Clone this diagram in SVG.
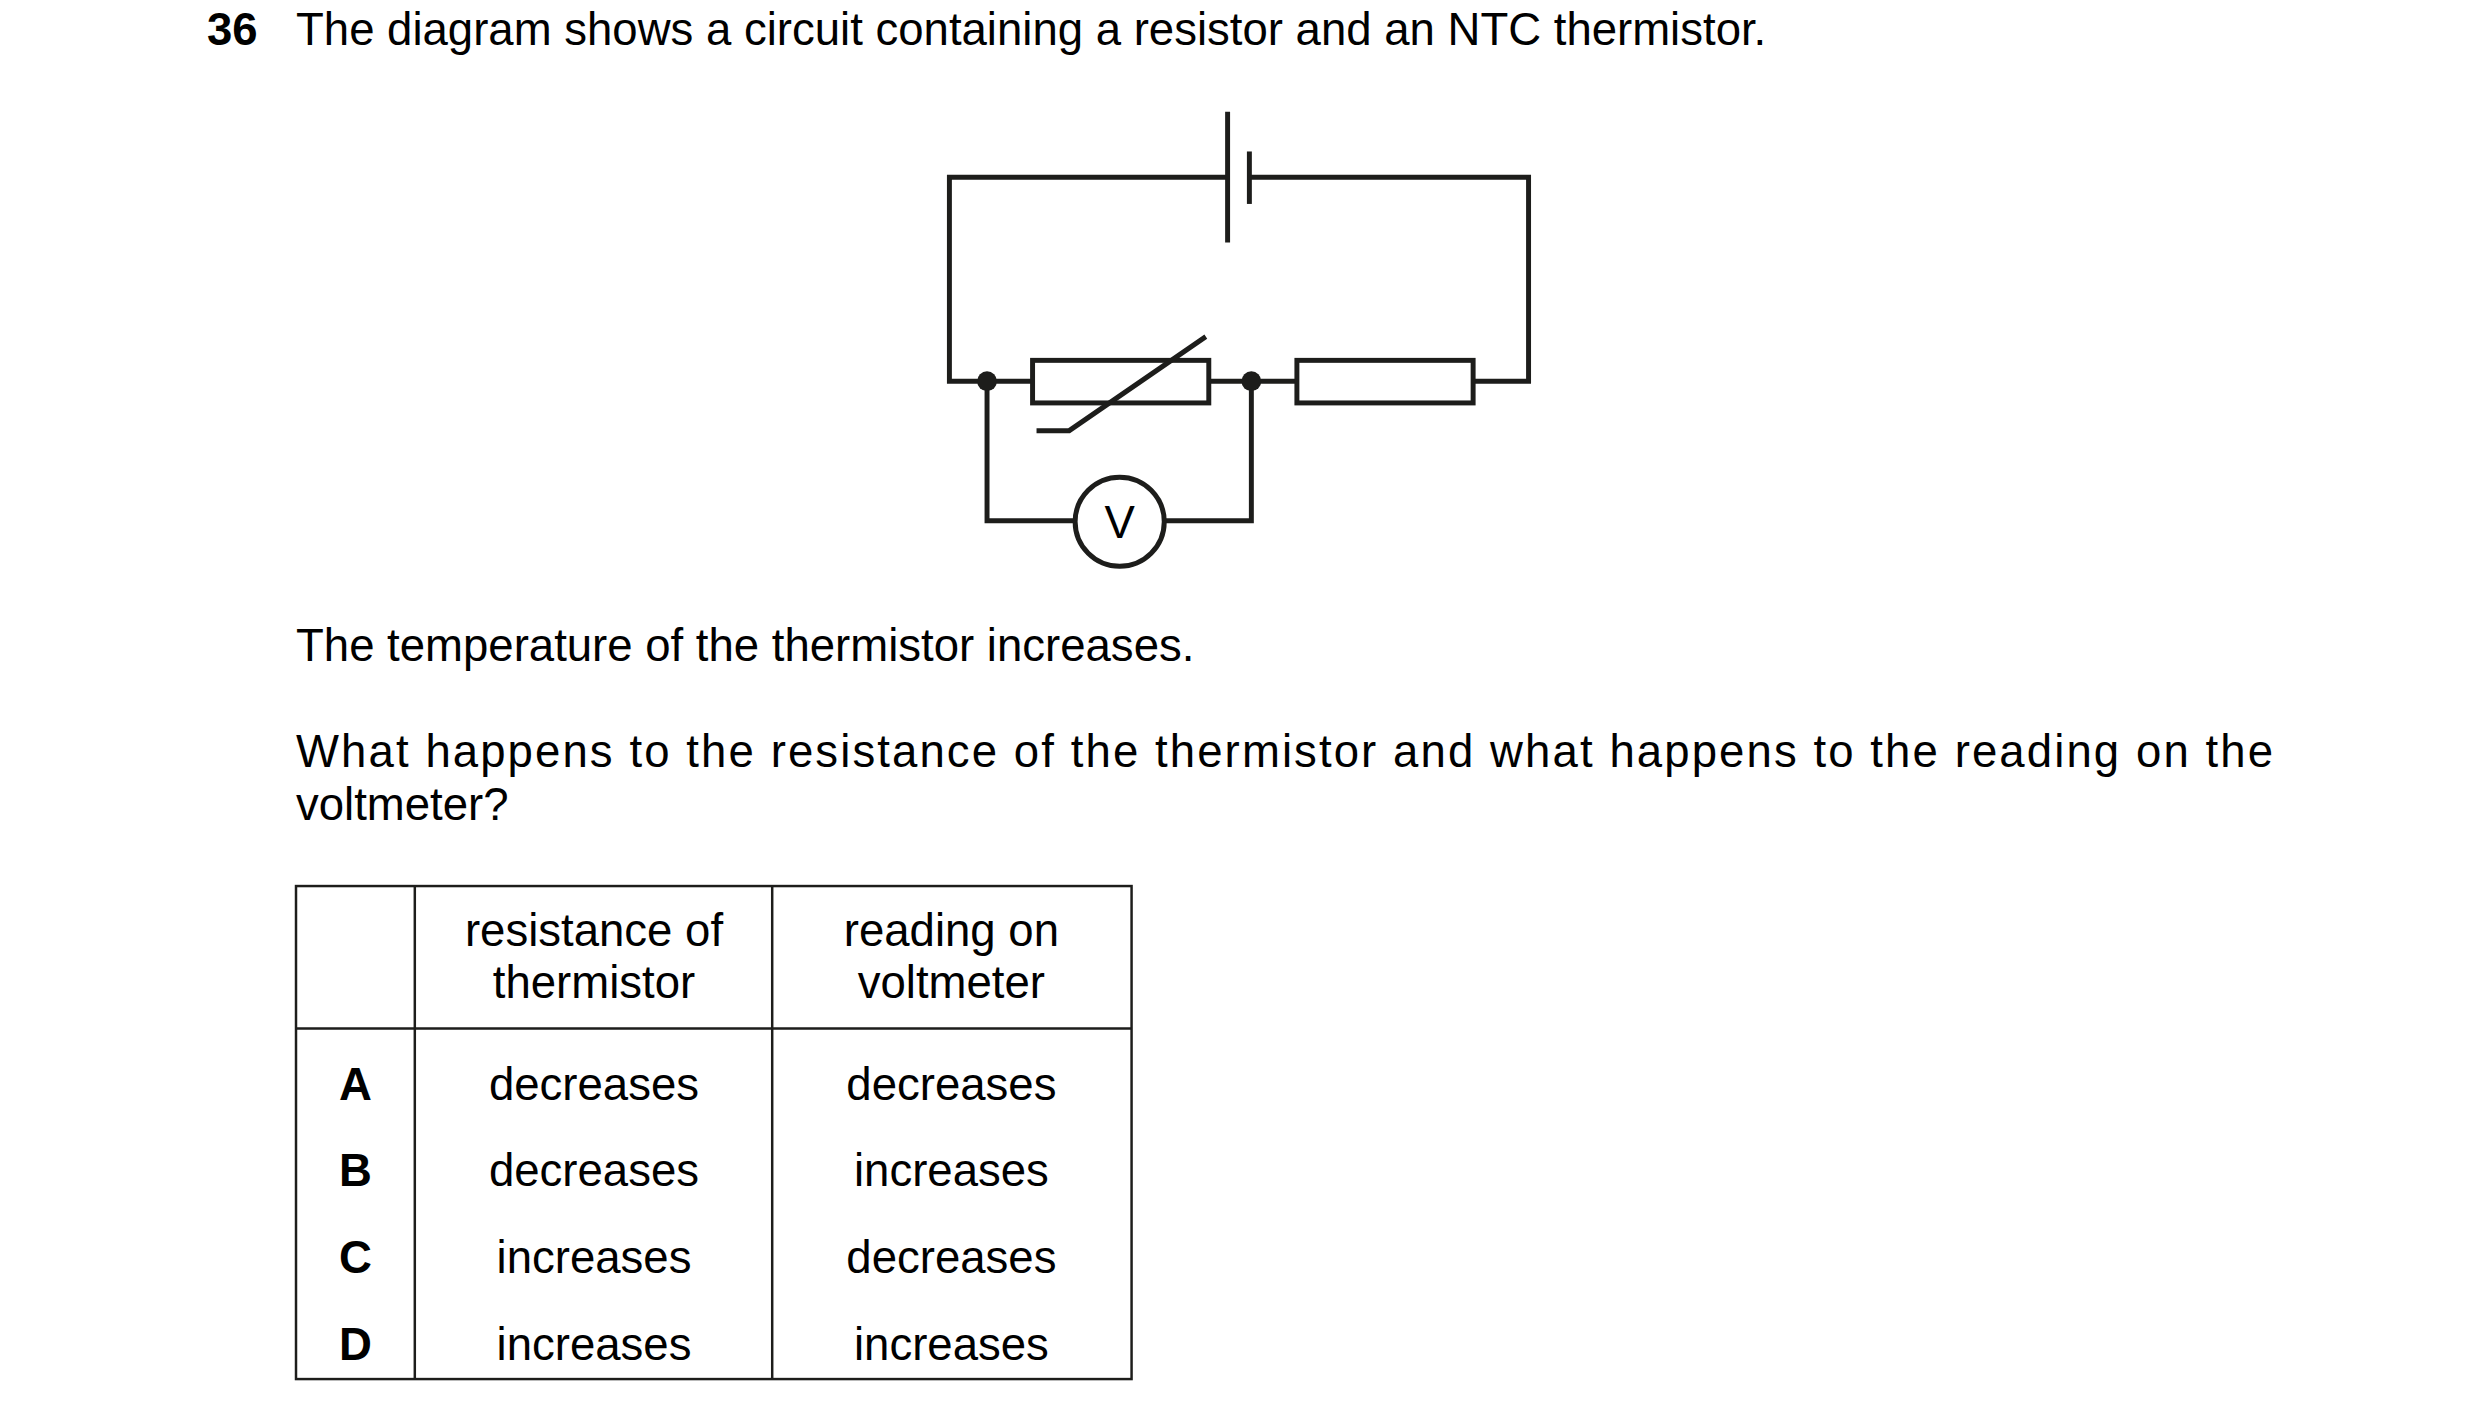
<svg xmlns="http://www.w3.org/2000/svg" width="2480" height="1421" viewBox="0 0 2480 1421">
<style>
text{font-family:"Liberation Sans",Arial,sans-serif;font-size:46px;fill:#000}
.t{font-size:46px;text-anchor:middle}
.b{font-weight:bold}
.w{fill:none;stroke:#1d1d1b;stroke-width:5}
.g{fill:none;stroke:#1d1d1b;stroke-width:2.5}
</style>
<rect width="2480" height="1421" fill="#fff"/>
<g transform="scale(0.99)">
<text x="209" y="45" class="b">36</text>
<text x="299" y="45">The diagram shows a circuit containing a resistor and an NTC thermistor.</text>
<g id="connectors">
<polyline class="w" points="1240,179 959,179 959,385 1043,385"/>
<polyline class="w" points="1262,179 1544,179 1544,385 1488,385"/>
<line class="w" x1="1221" y1="385" x2="1310" y2="385"/>
<polyline class="w" points="997,385 997,526 1086,526"/>
<polyline class="w" points="1176,526 1264,526 1264,385"/>
</g>
<g id="battery">
<line class="w" x1="1240" y1="113" x2="1240" y2="245"/>
<line class="w" x1="1262" y1="153" x2="1262" y2="206"/>
</g>
<g id="thermistor">
<rect class="w" x="1043" y="364" width="178" height="43"/>
<polyline class="w" points="1218,340 1080,435 1047,435"/>
</g>
<g id="resistor"><rect class="w" x="1310" y="364" width="178" height="43"/></g>
<g id="junctions"><circle cx="997" cy="385" r="10" fill="#1d1d1b"/><circle cx="1264" cy="385" r="10" fill="#1d1d1b"/></g>
<g id="voltmeter"><circle class="w" cx="1131" cy="527" r="45"/><text x="1131" y="543" text-anchor="middle" font-size="42">V</text></g>
<text x="299" y="668">The temperature of the thermistor increases.</text>
<text x="299" y="775" textLength="1997" lengthAdjust="spacing">What happens to the resistance of the thermistor and what happens to the reading on the</text>
<text x="299" y="828">voltmeter?</text>
<g id="table">
<rect class="g" x="299" y="895" width="844" height="498"/>
<line class="g" x1="419" y1="895" x2="419" y2="1393"/>
<line class="g" x1="780" y1="895" x2="780" y2="1393"/>
<line class="g" x1="299" y1="1039" x2="1143" y2="1039"/>
<text class="t" x="600" y="956">resistance of</text><text class="t" x="600" y="1008">thermistor</text>
<text class="t" x="961" y="956">reading on</text><text class="t" x="961" y="1008">voltmeter</text>
<text class="t b" x="359" y="1111">A</text><text class="t" x="600" y="1111">decreases</text><text class="t" x="961" y="1111">decreases</text>
<text class="t b" x="359" y="1198">B</text><text class="t" x="600" y="1198">decreases</text><text class="t" x="961" y="1198">increases</text>
<text class="t b" x="359" y="1286">C</text><text class="t" x="600" y="1286">increases</text><text class="t" x="961" y="1286">decreases</text>
<text class="t b" x="359" y="1374">D</text><text class="t" x="600" y="1374">increases</text><text class="t" x="961" y="1374">increases</text>
</g>
</g>
</svg>
